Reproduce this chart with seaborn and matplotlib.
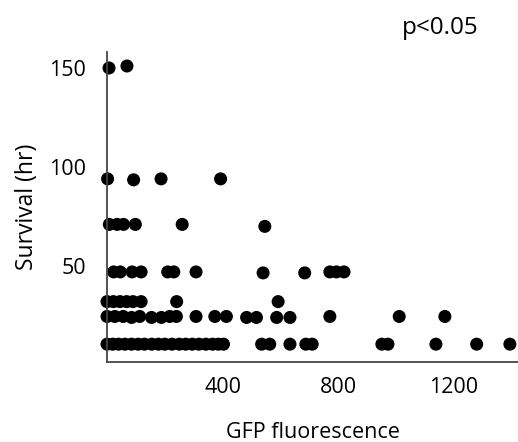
import matplotlib
matplotlib.use("Agg")
import matplotlib.pyplot as plt
import seaborn as sns
import pandas as pd

# Survival (hr) grouped by level, with GFP fluorescence values
gfp_150 = [7, 69]
surv_150 = [150, 151]
gfp_94 = [2, 92, 187, 393]
surv_94 = [94, 93.5, 94, 94]
gfp_71 = [8, 35, 57, 98, 260, 546]
surv_71 = [71, 71, 71, 71, 71, 70]
gfp_47 = [23, 46, 87, 118, 210, 231, 308, 540, 684, 771, 794, 820]
surv_47 = [47, 47, 47, 47, 47, 47, 47, 46.5, 46.5, 47, 47, 47]
gfp_32 = [0, 22, 45, 68, 90, 118, 241, 592]
surv_32 = [32, 32, 32, 32, 32, 32, 32, 32]
gfp_24 = [0, 27, 56, 85, 113, 154, 188, 217, 240, 308, 373, 413, 483, 517,
          587, 633, 771, 1011, 1169]
surv_24 = [24.5, 24.5, 24.5, 24, 24.5, 24, 24, 24.5, 24.5, 24.5, 24.5, 24.5,
           24, 24, 24, 24, 24.5, 24.5, 24.5]
gfp_10 = [0, 20, 40, 62, 85, 108, 130, 155, 178, 200, 225, 250, 272, 295, 318,
          342, 365, 385, 403, 535, 563, 633, 688, 710, 951, 972, 1138, 1279, 1394]
surv_10 = [10.5] * 29

x_ticks = [400, 800, 1200]
y_ticks = [50, 100, 150]

gfp = gfp_150 + gfp_94 + gfp_71 + gfp_47 + gfp_32 + gfp_24 + gfp_10
surv = surv_150 + surv_94 + surv_71 + surv_47 + surv_32 + surv_24 + surv_10
df = pd.DataFrame({"GFP fluorescence": gfp, "Survival (hr)": surv})

sns.set_style("white")
plt.rcParams["font.family"] = ["Open Sans", "DejaVu Sans"]

fig = plt.figure(figsize=(5.18, 4.42), dpi=100)
ax = fig.add_axes([0.2066, 0.181, 0.7934, 0.701])
sns.scatterplot(data=df, x="GFP fluorescence", y="Survival (hr)", ax=ax,
                color="black", s=88, edgecolor="none", linewidth=0, clip_on=False)

ax.set_xlim(0, 1422)
ax.set_ylim(1.5, 158)
ax.set_xticks(x_ticks)
ax.set_yticks(y_ticks)
for side in ["top", "right"]:
    ax.spines[side].set_visible(False)
for side in ["left", "bottom"]:
    ax.spines[side].set_color("#444444")
    ax.spines[side].set_linewidth(1.3)
ax.tick_params(axis="both", direction="out", color="#444444", width=1.3,
               labelsize=15.5, labelcolor="black")
ax.tick_params(axis="x", length=6, pad=5)
ax.tick_params(axis="y", length=6, pad=9)
ax.set_xlabel("GFP fluorescence", fontsize=15.5, labelpad=17, color="black")
ax.set_ylabel("Survival (hr)", fontsize=16.5, labelpad=7, color="black")
fig.text(0.775, 0.937, "p<0.05", ha="left", va="center", fontsize=17.5,
         color="black")

fig.savefig("out.png", dpi=100)
